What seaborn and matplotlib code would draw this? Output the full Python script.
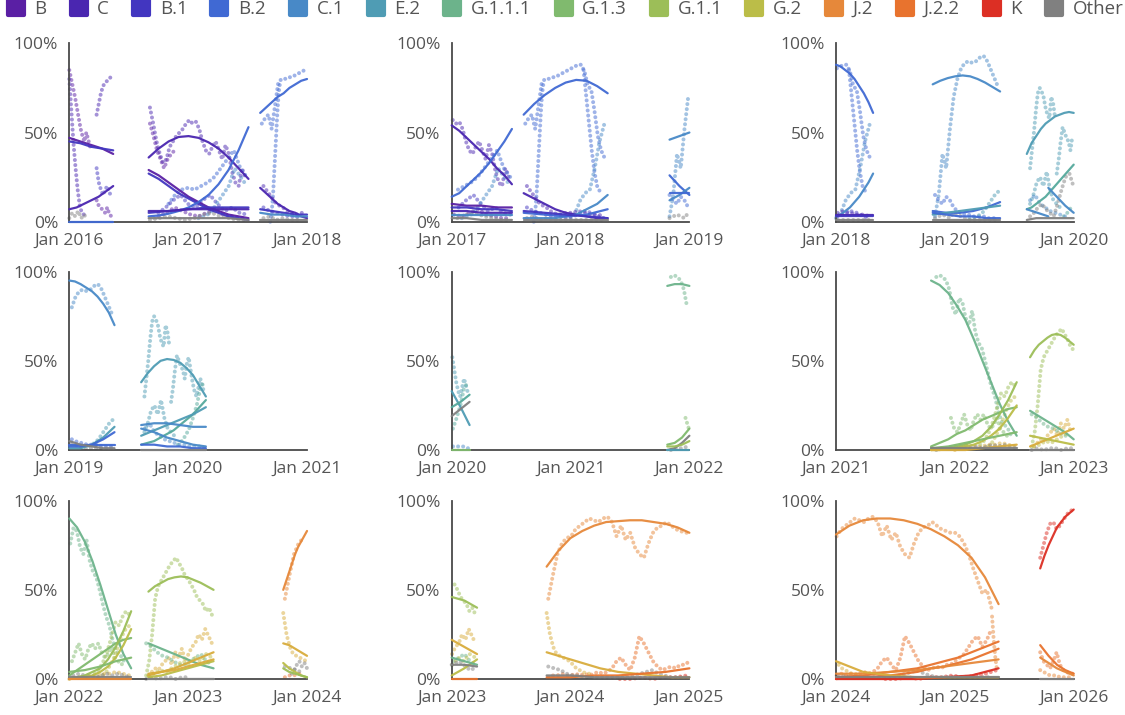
import matplotlib
matplotlib.use("Agg")
import matplotlib.pyplot as plt
import seaborn as sns
import pandas as pd
from matplotlib.lines import Line2D
from matplotlib.markers import MarkerStyle

# ---------------- legend / colours ----------------
VARIANTS = ["B", "C", "B.1", "B.2", "C.1", "E.2", "G.1.1.1", "G.1.3",
            "G.1.1", "G.2", "J.2", "J.2.2", "K", "Other"]
VARIANT_COLORS = ["#5A1FA4", "#4A26B0", "#4236C0", "#4069D3", "#4889C7", "#4F9CB4",
                  "#6CB38B", "#80BA6E", "#9CBE58", "#BBBD48", "#E6883A", "#E8732E",
                  "#DC2F24", "#808080"]
# unlabelled intermediate clades seen in the chart
EXTRA_VARIANTS = ["D", "J"]
EXTRA_COLORS = ["#55A99C", "#D8AC3C"]

PANEL_START_YEARS = [2016, 2017, 2018, 2019, 2020, 2021, 2022, 2023, 2024]
Y_TICKS = [0, 50, 100]

# ---------------- observed frequencies (trails), shared across panels ----------------
TRAILS_S1 = [
    ("B", "2016-01-01", "2016-03-05", [85, 80, 75, 70, 64, 58, 52, 48, 45, 50, 46, 42]),
    ("C", "2016-01-01", "2016-02-15", [80, 62, 44, 30, 18, 9, 5, 4]),
    ("C", "2016-03-25", "2016-05-10", [60, 66, 72, 76, 78, 79, 80, 82]),
    ("B.1", "2016-03-25", "2016-05-10", [30, 22, 18, 15, 18, 20, 16, 15]),
    ("B", "2016-03-25", "2016-05-10", [12, 9, 8, 6, 5, 8, 4, 3]),
    ("Other", "2016-01-01", "2016-02-25", [2, 5, 3, 6, 2, 4, 1]),
]
TRAILS_S2 = [
    ("C", "2016-09-05", "2017-06-25", [64, 55, 45, 38, 33, 35, 42, 45, 48, 50, 52, 55, 57, 55, 56,
                                       52, 45, 40, 38, 42, 45, 40, 35, 43, 38, 28, 22, 20, 30, 25]),
    ("B", "2016-09-05", "2016-11-20", [55, 48, 40, 35, 30, 35, 38, 40]),
    ("B.2", "2016-11-01", "2017-06-30", [10, 15, 18, 19, 18, 20, 22, 25, 30, 35, 40, 30, 25]),
    ("B.1", "2016-10-01", "2017-06-30", [5, 8, 12, 15, 10, 8, 12, 15, 10, 6, 8, 5, 4]),
    ("B", "2016-10-01", "2017-06-30", [3, 5, 8, 6, 4, 3, 5, 7, 4, 3, 2, 2]),
    ("C.1", "2017-02-01", "2017-06-30", [2, 3, 5, 10, 15, 20, 30, 25, 20]),
    ("Other", "2016-09-05", "2017-06-30", [1, 2, 3, 2, 1, 2, 4, 5, 3, 2, 1, 1]),
]
TRAILS_S3 = [
    ("B.2", "2017-08-15", "2018-04-15", [55, 58, 60, 52, 65, 78, 80, 80, 81, 81, 82, 83, 84,
                                         85, 86, 87, 88, 88, 84, 76, 74, 62, 48, 40, 36]),
    ("B.2", "2017-09-10", "2017-10-10", [0, 5, 15, 30, 45, 60, 72, 78]),
    ("B.2", "2018-02-10", "2018-04-01", [85, 70, 55, 40, 28, 20, 17]),
    ("C.1", "2018-01-01", "2018-04-15", [2, 5, 12, 16, 18, 30, 45, 55]),
    ("C", "2017-08-20", "2018-04-15", [20, 15, 10, 8, 5, 4, 5, 5, 6, 5, 4, 4, 3]),
    ("B.1", "2017-08-20", "2018-04-15", [8, 6, 5, 4, 3, 3, 2, 3, 4, 6, 5, 3, 2]),
    ("Other", "2017-08-20", "2018-04-15", [2, 3, 1, 2, 1, 1, 1, 1, 1, 1, 1, 1, 1]),
]
TRAILS_S4 = [
    ("C.1", "2018-11-01", "2019-05-15", [3, 15, 38, 30, 52, 70, 80, 86, 89, 90, 89, 90, 92,
                                         93, 90, 85, 80, 75]),
    ("B.2", "2018-11-01", "2019-05-15", [15, 12, 10, 14, 12, 8, 6, 5, 4, 4, 3, 3, 3, 3, 2, 2, 2, 2]),
    ("E.2", "2019-02-15", "2019-05-15", [2, 2, 3, 4, 6, 9, 12, 15, 17]),
    ("Other", "2018-11-01", "2019-05-15", [2, 3, 4, 3, 2, 5, 4, 3, 2, 1, 1, 1, 1, 1, 1, 1, 1, 1]),
]
TRAILS_S5 = [
    ("E.2", "2019-08-20", "2019-11-05", [30, 40, 50, 62, 72, 75, 73, 70, 64, 60, 58, 70, 66, 58]),
    ("E.2", "2019-11-10", "2020-02-20", [27, 35, 45, 53, 50, 47, 45, 40, 48, 52, 45, 38, 33, 30,
                                         35, 40, 36, 32]),
    ("E.2", "2019-08-20", "2019-11-20", [10, 15, 22, 25, 20, 28, 18, 12, 10, 8]),
    ("D", "2019-12-01", "2020-02-20", [3, 5, 8, 12, 18, 25, 35, 38]),
    ("C.1", "2019-08-20", "2020-02-20", [12, 15, 10, 8, 6, 5, 4, 3, 3, 2, 2, 2, 1]),
]
TRAILS_S6 = [
    ("G.1.1.1", "2021-11-05", "2022-06-23", [97, 98, 97, 95, 90, 80, 76, 85, 83, 74, 70, 78, 66,
                                             60, 57, 50, 42, 35, 30, 22, 16, 14, 12, 8]),
    ("G.1.3", "2021-12-20", "2022-06-20", [18, 12, 10, 15, 20, 14, 11, 17, 20, 17, 20, 15, 12,
                                           14, 18, 12, 10, 8, 10]),
    ("G.1.1", "2022-03-20", "2022-07-05", [3, 5, 8, 12, 18, 25, 32, 30, 35, 38, 36]),
    ("G.2", "2022-04-01", "2022-07-05", [1, 2, 4, 8, 12, 18, 24, 28, 30]),
    ("J", "2022-01-01", "2022-07-05", [0, 1, 1, 2, 2, 3, 3, 4, 3, 2]),
    ("Other", "2021-11-05", "2022-07-05", [0, 1, 1, 2, 2, 3, 2, 2, 1, 2, 3, 2, 3, 2, 1]),
]
TRAILS_S7 = [
    ("G.1.1", "2022-08-25", "2023-03-15", [2, 10, 25, 45, 52, 55, 58, 61, 64, 66, 68, 65, 62,
                                           58, 56, 53, 50, 46, 44, 42, 38, 40, 36]),
    ("J", "2022-09-01", "2023-03-15", [2, 4, 6, 5, 8, 10, 12, 8, 15, 12, 17, 10, 14, 18, 20,
                                       25, 22, 28, 24, 20]),
    ("G.1.1.1", "2022-08-25", "2023-03-15", [20, 18, 15, 13, 12, 10, 8, 8, 10, 12, 14, 10, 8]),
    ("G.2", "2022-09-01", "2023-03-15", [2, 3, 5, 4, 6, 8, 10, 8, 12, 10, 14, 12]),
    ("Other", "2022-08-25", "2022-12-31", [0, 1, 0, 1, 1, 0, 1, 1]),
]
TRAILS_S8 = [
    ("J.2", "2023-10-25", "2025-04-23", [45, 58, 70, 76, 79, 80, 84, 86, 88, 90, 89, 88, 90, 91,
                                         88, 80, 86, 78, 82, 74, 70, 68, 76, 82, 85, 86, 88, 86,
                                         84, 83, 82, 82, 80, 76, 70, 62, 55, 48, 50, 40]),
    ("J.2", "2025-04-25", "2025-05-10", [35, 22, 12, 5]),
    ("J.2.2", "2023-10-25", "2025-04-23", [1, 2, 2, 3, 2, 2, 3, 2, 3, 2, 3, 4, 3, 4, 6, 10, 12, 8,
                                           5, 12, 24, 20, 15, 10, 7, 5, 6, 7, 6, 8, 8, 10, 12, 14,
                                           18, 22, 24, 18, 22, 28]),
    ("J", "2023-10-20", "2024-03-10", [37, 25, 18, 14, 13, 12, 11, 10, 8, 6, 5, 4, 3, 3, 2]),
    ("Other", "2023-10-25", "2025-04-23", [7, 6, 5, 3, 2, 2, 1, 1, 1, 1, 1, 1, 1, 1, 2, 3, 4, 5,
                                           3, 2, 1, 1, 1, 1, 1, 1, 1, 1, 1, 1]),
    ("K", "2024-06-01", "2025-05-10", [0, 0, 1, 0, 1, 1, 2, 1, 2, 3, 5]),
]
TRAILS_S9 = [
    ("K", "2025-09-20", "2025-12-30", [68, 75, 82, 87, 88, 84, 86, 89, 92, 94, 95]),
    ("J.2.2", "2025-09-20", "2025-12-30", [15, 10, 8, 6, 10, 15, 8, 5, 4, 3, 3]),
    ("J.2", "2025-09-20", "2025-12-30", [5, 4, 3, 2, 2, 2, 1, 1, 1, 1, 1]),
]
# "Other" depends on the clade set of each panel
OTHER_P3 = [("Other", "2019-08-20", "2019-12-31", [3, 5, 8, 10, 7, 5, 3, 10, 18, 25, 27, 20])]
OTHER_P7 = [("Other", "2023-11-15", "2024-01-01", [3, 5, 8, 10, 7, 9, 6])]
OTHER_P8 = [("Other", "2023-01-01", "2023-03-15", [8, 9, 10, 8, 6, 5, 7])]

# ---------------- fitted trends, one set per panel ----------------
FITS_P1 = [
    ("B", "2016-01-01", "2016-05-15", [47, 45, 43, 41, 38]),
    ("B.1", "2016-01-01", "2016-05-15", [45, 44, 42, 41, 40]),
    ("C", "2016-01-01", "2016-05-15", [7, 8, 10, 12, 14, 17, 20]),
    ("B.2", "2016-01-01", "2016-05-15", [0, 0, 0, 0, 0]),
    ("C", "2016-09-01", "2017-07-05", [36, 41, 45, 47.5, 48, 47, 44.5, 41, 36, 30, 24]),
    ("B", "2016-09-01", "2017-07-05", [29, 26, 22, 18, 14, 11, 8, 6, 4, 3, 2]),
    ("B.1", "2016-09-01", "2017-07-05", [27, 24, 20, 16, 13, 10, 7, 5, 3, 2, 1]),
    ("B.2", "2016-09-01", "2017-07-05", [3, 3.5, 4.5, 6, 8, 11, 15, 21, 29, 40, 53]),
    ("B.1", "2016-09-01", "2017-07-05", [5, 6, 7, 8, 8, 8]),
    ("C", "2016-09-01", "2017-07-05", [6, 6, 7, 7, 7, 7]),
    ("Other", "2016-09-01", "2017-07-05", [2, 2, 2, 2, 2, 1]),
    ("B.2", "2017-08-10", "2018-01-01", [61, 64, 67, 70, 72, 75, 77, 79, 80]),
    ("C", "2017-08-10", "2018-01-01", [19, 16, 13, 10, 8, 6, 5, 3, 2]),
    ("B.1", "2017-08-10", "2018-01-01", [7, 6, 5, 4, 4]),
    ("C.1", "2017-08-10", "2018-01-01", [5, 4, 4, 3, 3]),
    ("Other", "2017-08-10", "2018-01-01", [1, 1, 1, 1, 1]),
]
FITS_P2 = [
    ("C", "2017-01-01", "2017-07-05", [54, 51, 47, 43, 39, 35, 30, 26, 21]),
    ("B.2", "2017-01-01", "2017-07-05", [14, 16, 20, 24, 28, 33, 39, 45, 52]),
    ("B", "2017-01-01", "2017-07-05", [10, 9, 9, 8, 8]),
    ("B.1", "2017-01-01", "2017-07-05", [8, 8, 7, 7, 6]),
    ("C", "2017-01-01", "2017-07-05", [6, 6, 5, 5, 5]),
    ("C.1", "2017-01-01", "2017-07-05", [4, 4, 4, 4, 4]),
    ("Other", "2017-01-01", "2017-07-05", [2, 2, 1, 1, 1]),
    ("B.2", "2017-08-10", "2018-04-25", [60, 66, 71, 75, 78, 79.5, 79, 76, 72]),
    ("C", "2017-08-10", "2018-04-25", [16, 13, 10, 7, 5, 4, 3, 2, 2]),
    ("C.1", "2017-08-10", "2018-04-25", [2, 2, 2, 2, 3, 4, 7, 10, 15]),
    ("B.2", "2017-08-10", "2018-04-25", [5, 4, 3, 4, 7]),
    ("B.1", "2017-08-10", "2018-04-25", [6, 5, 4, 3, 2]),
    ("Other", "2017-08-10", "2018-04-25", [1, 1, 1, 1, 1]),
    ("C.1", "2018-11-01", "2019-01-01", [46, 48, 50]),
    ("B.2", "2018-11-01", "2019-01-01", [26, 20, 15]),
    ("C.1", "2018-11-01", "2019-01-01", [12, 15, 19]),
    ("B.2", "2018-11-01", "2019-01-01", [16, 16, 16]),
]
FITS_P3 = [
    ("B.2", "2018-01-01", "2018-04-25", [88, 87, 85, 83, 80, 76, 72, 67, 61]),
    ("C.1", "2018-01-01", "2018-04-25", [3, 4, 6, 8, 11, 14, 18, 22, 27]),
    ("C", "2018-01-01", "2018-04-25", [4, 4, 4, 4, 4]),
    ("B.1", "2018-01-01", "2018-04-25", [3, 3, 3, 3, 3]),
    ("Other", "2018-01-01", "2018-04-25", [1, 1, 1, 1, 1]),
    ("C.1", "2018-10-25", "2019-05-20", [77, 79, 80.5, 81.5, 82, 81.5, 80, 78, 75.5, 73]),
    ("B.2", "2018-10-25", "2019-05-20", [6, 5, 5, 6, 8, 11]),
    ("E.2", "2018-10-25", "2019-05-20", [4, 5, 6, 7, 8, 9]),
    ("B.2", "2018-10-25", "2019-05-20", [5, 4, 3, 3, 2, 2]),
    ("Other", "2018-10-25", "2019-05-20", [1, 1, 1, 1, 1, 1]),
    ("E.2", "2019-08-10", "2020-01-01", [38, 44, 48, 52, 55, 57, 59, 60, 61, 61.5, 61]),
    ("D", "2019-08-10", "2020-01-01", [7, 8, 10, 12, 14, 17, 20, 23, 26, 29, 32]),
    ("C.1", "2019-08-10", "2019-10-15", [7, 5, 3]),
    ("C.1", "2019-10-15", "2020-01-01", [19, 14, 9, 5]),
    ("Other", "2019-08-10", "2020-01-01", [1, 2, 2, 2, 2, 2]),
]
FITS_P4 = [
    ("C.1", "2019-01-01", "2019-05-20", [95, 94.5, 93, 91, 89, 86, 82, 77, 70]),
    ("E.2", "2019-01-01", "2019-05-20", [1, 1, 3, 7, 13]),
    ("B.2", "2019-01-01", "2019-05-20", [2, 2, 3, 6, 10]),
    ("B.2", "2019-01-01", "2019-05-20", [3, 3, 3, 3, 3]),
    ("Other", "2019-01-01", "2019-05-20", [5, 3, 2, 1, 1]),
    ("E.2", "2019-08-10", "2020-02-25", [38, 43, 47, 50, 51, 50.5, 49, 46, 42, 36, 30]),
    ("D", "2019-08-10", "2020-02-25", [3, 4, 5, 7, 9, 11, 14, 17, 20, 24, 28]),
    ("E.2", "2019-08-10", "2020-02-25", [8, 11, 14, 17, 20, 24]),
    ("C.1", "2019-08-10", "2020-02-25", [14, 15, 15, 14, 13, 13]),
    ("C.1", "2019-08-10", "2020-02-25", [12, 10, 7, 5, 3, 2]),
    ("B.2", "2019-08-10", "2020-02-25", [3, 3, 2, 2, 1, 1]),
    ("Other", "2019-08-10", "2020-02-25", [0, 0, 0, 0, 0, 0]),
]
FITS_P5 = [
    ("E.2", "2020-01-01", "2020-02-25", [33, 24, 14]),
    ("D", "2020-01-01", "2020-02-25", [24, 27, 31]),
    ("Other", "2020-01-01", "2020-02-25", [19, 23, 27]),
    ("G.1.3", "2020-01-01", "2020-02-25", [0, 0, 0]),
    ("G.1.1.1", "2021-10-25", "2022-01-01", [92, 93, 93, 92]),
    ("G.1.3", "2021-10-25", "2022-01-01", [3, 4, 7, 12]),
    ("Other", "2021-10-25", "2022-01-01", [0, 1, 4, 8]),
    ("G.1.1", "2021-10-25", "2022-01-01", [2, 2, 3, 5]),
    ("E.2", "2021-10-25", "2022-01-01", [0, 0, 0, 0]),
]
FITS_P6 = [
    ("G.1.1.1", "2021-10-20", "2022-07-10", [95, 92.5, 88, 81, 73, 62, 50, 38, 26, 16, 8]),
    ("G.1.3", "2021-10-20", "2022-07-10", [2, 4, 6, 9, 11, 14, 17, 19, 21, 23, 24]),
    ("G.1.1", "2021-10-20", "2022-07-10", [0, 0.5, 1, 2, 3, 5, 8, 13, 20, 28, 38]),
    ("G.2", "2021-10-20", "2022-07-10", [0, 0, 0.5, 1, 2, 3, 5, 8, 12, 18, 25]),
    ("G.1.3", "2021-10-20", "2022-07-10", [1, 2, 4, 6, 8, 10]),
    ("J", "2021-10-20", "2022-07-10", [0, 0, 0, 1, 2, 3]),
    ("Other", "2021-10-20", "2022-07-10", [1, 1, 1, 1, 1, 1]),
    ("G.1.1", "2022-08-20", "2023-01-01", [52, 56, 59, 61, 63, 64.5, 65, 64.5, 63, 61, 59]),
    ("G.1.1.1", "2022-08-20", "2023-01-01", [22, 19, 16, 13, 10, 6]),
    ("J", "2022-08-20", "2023-01-01", [2, 4, 6, 8, 10, 12]),
    ("G.2", "2022-08-20", "2023-01-01", [8, 7, 6, 5, 4, 3]),
    ("Other", "2022-08-20", "2023-01-01", [0, 0, 0, 0, 0, 0]),
]
FITS_P7 = [
    ("G.1.1.1", "2022-01-01", "2022-07-10", [90, 85, 77, 66, 53, 39, 25, 14, 6]),
    ("G.1.3", "2022-01-01", "2022-07-10", [2, 5, 8, 11, 14, 17, 20, 22, 23]),
    ("G.1.1", "2022-01-01", "2022-07-10", [0, 1, 2, 4, 6, 11, 18, 27, 38]),
    ("G.2", "2022-01-01", "2022-07-10", [0, 0.5, 1, 2, 4, 7, 12, 19, 28]),
    ("G.1.3", "2022-01-01", "2022-07-10", [4, 5, 7, 10, 12]),
    ("Other", "2022-01-01", "2022-07-10", [1, 1, 1, 1, 1]),
    ("J.2", "2022-01-01", "2022-07-10", [0, 0, 0, 0, 0]),
    ("G.1.1", "2022-09-01", "2023-03-20", [49, 52, 54, 56, 57, 57.5, 57, 55.5, 54, 52, 50]),
    ("G.1.1.1", "2022-09-01", "2023-03-20", [20, 17, 14, 11, 8, 6]),
    ("J", "2022-09-01", "2023-03-20", [2, 4, 6, 9, 12, 15]),
    ("G.2", "2022-09-01", "2023-03-20", [1, 2, 4, 6, 8, 10]),
    ("J", "2022-09-01", "2023-03-20", [3, 4, 5, 7, 9, 11]),
    ("Other", "2022-09-01", "2023-03-20", [0, 0, 0, 0, 0, 0]),
    ("J.2", "2023-10-20", "2024-01-01", [50, 55, 60, 65, 70, 74, 77, 80, 83]),
    ("J", "2023-10-20", "2024-01-01", [20, 19, 17, 15, 13]),
    ("G.2", "2023-10-20", "2024-01-01", [9, 6, 4, 2, 1]),
    ("G.1.1", "2023-10-20", "2024-01-01", [6, 4, 3, 2, 1]),
]
FITS_P8 = [
    ("G.1.1", "2023-01-01", "2023-03-20", [46, 44, 40]),
    ("J", "2023-01-01", "2023-03-20", [22, 18, 14]),
    ("G.2", "2023-01-01", "2023-03-20", [2, 6, 11]),
    ("G.1.1.1", "2023-01-01", "2023-03-20", [12, 10, 8]),
    ("Other", "2023-01-01", "2023-03-20", [8, 8, 7]),
    ("J.2.2", "2023-01-01", "2023-03-20", [0, 0, 0]),
    ("J.2", "2023-10-20", "2025-01-01", [63, 72, 79, 83, 86, 88, 88.5, 89, 89, 88, 87, 85, 82]),
    ("J", "2023-10-20", "2025-01-01", [15, 12, 9, 6, 4, 3, 2, 1, 1]),
    ("J.2.2", "2023-10-20", "2025-01-01", [1, 1, 2, 2, 3, 4, 6]),
    ("Other", "2023-10-20", "2025-01-01", [2, 2, 1, 1, 1, 1, 1]),
]
FITS_P9 = [
    ("J.2", "2024-01-01", "2025-05-15", [81, 86, 89, 90, 90, 89, 87, 84, 80, 75, 68, 57, 42]),
    ("J.2.2", "2024-01-01", "2025-05-15", [1, 1.5, 2, 3, 4, 5, 6, 8, 10, 12, 15, 18, 21]),
    ("J.2.2", "2024-01-01", "2025-05-15", [0, 0.5, 1, 1.5, 2, 3, 4, 6, 7, 9, 11, 14, 17]),
    ("J.2", "2024-01-01", "2025-05-15", [3, 3, 4, 5, 7, 9, 11]),
    ("K", "2024-01-01", "2025-05-15", [0, 0, 0, 0, 1, 2, 6]),
    ("J", "2024-01-01", "2025-05-15", [10, 4, 2, 1, 1, 1, 1]),
    ("Other", "2024-01-01", "2025-05-15", [1, 1, 1, 1, 1, 1, 1]),
    ("K", "2025-09-20", "2026-01-01", [62, 69, 75, 80, 85, 88, 91, 93, 95]),
    ("J.2.2", "2025-09-20", "2026-01-01", [19, 13, 8, 5, 3]),
    ("J.2", "2025-09-20", "2026-01-01", [12, 9, 6, 4, 2]),
    ("Other", "2025-09-20", "2026-01-01", [0, 0, 0, 0, 0]),
]

# ---------------- assemble ----------------
palette = dict(zip(VARIANTS + EXTRA_VARIANTS, VARIANT_COLORS + EXTRA_COLORS))
shared_trails = (TRAILS_S1 + TRAILS_S2 + TRAILS_S3 + TRAILS_S4 + TRAILS_S5 +
                 TRAILS_S6 + TRAILS_S7 + TRAILS_S8 + TRAILS_S9)
panel_trails = [[], [], OTHER_P3, [], [], [], OTHER_P7, OTHER_P8, []]
panel_fits = [FITS_P1, FITS_P2, FITS_P3, FITS_P4, FITS_P5, FITS_P6, FITS_P7, FITS_P8, FITS_P9]


def to_frame(item, lo, hi):
    var, start, end, vals = item
    df = pd.DataFrame({"date": pd.date_range(start, end, periods=len(vals)), "pct": vals})
    return df[(df["date"] >= lo) & (df["date"] <= hi)]


sns.set_theme(style="white")
plt.rcParams["font.family"] = ["Open Sans", "DejaVu Sans"]

fig = plt.figure(figsize=(11.25, 7.15), dpi=100)
col_left = [0.0616, 0.4015, 0.7431]
row_bottom = [0.6899, 0.3706, 0.0503]
ax_w, ax_h = 0.2113, 0.2495

TEXT = "#555555"
AXC = "#4a4a4a"
dot_style = (0, (0.01, 1.25))

for i, y0 in enumerate(PANEL_START_YEARS):
    r, c = divmod(i, 3)
    ax = fig.add_axes([col_left[c], row_bottom[r], ax_w, ax_h])
    lo, hi = pd.Timestamp(f"{y0}-01-01"), pd.Timestamp(f"{y0 + 2}-01-01")

    for item in shared_trails + panel_trails[i]:
        d = to_frame(item, lo, hi)
        if len(d) < 2:
            continue
        sns.lineplot(data=d, x="date", y="pct", ax=ax, color=palette[item[0]],
                     lw=2.9, alpha=0.5, linestyle=dot_style, dash_capstyle="round",
                     sort=False, estimator=None, clip_on=False, zorder=2)

    for item in panel_fits[i]:
        d = to_frame(item, lo, hi)
        if len(d) < 2:
            continue
        sns.lineplot(data=d, x="date", y="pct", ax=ax, color=palette[item[0]],
                     lw=1.6, alpha=0.95, sort=False, estimator=None, clip_on=False,
                     solid_joinstyle="round", zorder=3)

    ax.set_xlim(lo, hi)
    ax.set_ylim(0, 100)
    ticks = [pd.Timestamp(f"{y}-01-01") for y in (y0, y0 + 1, y0 + 2)]
    ax.set_xticks(ticks)
    ax.set_xticklabels([t.strftime("Jan %Y") for t in ticks])
    ax.set_yticks(Y_TICKS)
    ax.set_yticklabels([f"{v}%" for v in Y_TICKS])
    ax.set_xlabel("")
    ax.set_ylabel("")
    for s in ("top", "right"):
        ax.spines[s].set_visible(False)
    for s in ("left", "bottom"):
        ax.spines[s].set_color(AXC)
        ax.spines[s].set_linewidth(1.3)
    ax.tick_params(axis="both", direction="out", length=6, width=1.3, color=AXC,
                   labelcolor=TEXT, labelsize=12.5, pad=2)
    ax.set_facecolor("none")

handles = [Line2D([], [], ls="none", marker=MarkerStyle("s", joinstyle="round"),
                  markersize=11.5, markeredgewidth=3, color=col, markeredgecolor=col)
           for col in VARIANT_COLORS]
leg = fig.legend(handles, VARIANTS, loc="upper left", bbox_to_anchor=(0.004, 1.003),
                 ncol=len(VARIANTS), frameon=False, fontsize=13.5, handlelength=1.0,
                 handletextpad=0.5, columnspacing=1.2, borderaxespad=0, borderpad=0.1)
for t in leg.get_texts():
    t.set_color(TEXT)

fig.savefig("out.png", dpi=100)
